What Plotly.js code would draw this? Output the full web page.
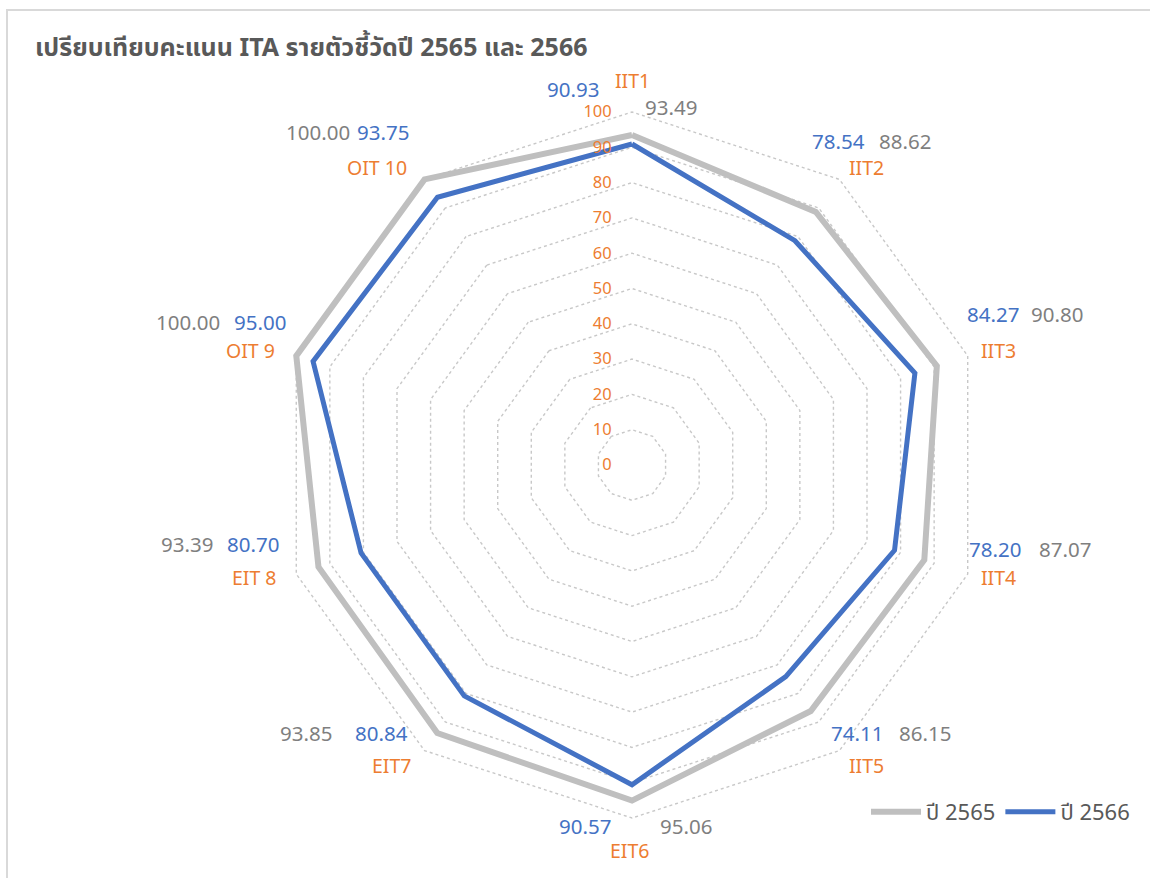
<!DOCTYPE html>
<html>
<head>
<meta charset="utf-8">
<script src="https://cdn.plot.ly/plotly-3.0.1.min.js"></script>
<style>html,body{margin:0;padding:0;background:#fff;}#chart{width:1150px;height:878px;}</style>
</head>
<body>
<div id="chart"></div>
<script>
// ---- data ----
const categories = ["IIT1", "IIT2", "IIT3", "IIT4", "IIT5", "EIT6", "EIT7", "EIT 8", "OIT 9", "OIT 10"];
const values2565 = [93.49, 88.62, 90.80, 87.07, 86.15, 95.06, 93.85, 93.39, 100.00, 100.00];
const values2566 = [90.93, 78.54, 84.27, 78.20, 74.11, 90.57, 80.84, 80.70, 95.00, 93.75];
const seriesNames = ["ปี 2565", "ปี 2566"];
const titleText = "เปรียบเทียบคะแนน ITA รายตัวชี้วัดปี 2565 และ 2566";

// ---- style / geometry ----
const W = 1150, H = 878;
const CX = 632, CY = 465, R = 353;       // polar centre & pixel radius of value 100
const RMAX = 102;                         // axis range end (a little room so thick lines at 100 are not clipped)
const RD = R * RMAX / 100;                // pixel radius of the polar domain
const LABEL_R = 109;                      // label anchor radius in axis units
const FONT = "'Noto Sans', 'Noto Sans Thai', Tahoma, sans-serif";
const C_GREY_LINE = "#BFBFBF", C_BLUE = "#4472C4", C_ORANGE = "#ED7D31", C_GREY_TXT = "#7F7F7F", C_TITLE = "#595959";
// pixel offsets of text relative to the label anchor on each spoke
const catOff  = [[0,0],[8,14],[1,4],[1,-6],[8,-11],[-3,1],[-14,-11],[-12,-6],[-16,4],[-29,14]];
const blueOff = [[-59,9],[-20,-13],[-5,-32],[-3,-35],[-1,-43],[-47,-24],[-24,-43],[-13,-40],[-6,-24],[-23,-22]];
const greyOff = [[39,27],[47,-13],[59,-32],[67,-35],[67,-43],[54,-24],[-100,-43],[-79,-40],[-78,-24],[-88,-22]];

const closeLoop = a => a.concat([a[0]]);

const traces = [
  {type: "scatterpolar", mode: "lines", name: seriesNames[0], cliponaxis: false,
   r: closeLoop(values2565), theta: closeLoop(categories),
   line: {color: C_GREY_LINE, width: 6}, hoverinfo: "skip"},
  {type: "scatterpolar", mode: "lines", name: seriesNames[1], cliponaxis: false,
   r: closeLoop(values2566), theta: closeLoop(categories),
   line: {color: C_BLUE, width: 5}, hoverinfo: "skip"}
];

// label annotations derived from the polar geometry
const n = categories.length;
const annotations = [];
function anchor(i) {
  const a = i * 2 * Math.PI / n;
  const rp = LABEL_R / 100 * R;
  return [CX + rp * Math.sin(a), CY - rp * Math.cos(a)];
}
function addText(i, off, text, color, size) {
  const p = anchor(i);
  annotations.push({
    xref: "paper", yref: "paper",
    x: (p[0] + off[0]) / W, y: 1 - (p[1] + off[1]) / H,
    xanchor: "center", yanchor: "middle", showarrow: false,
    text: text, font: {family: FONT, size: size, color: color}
  });
}
for (let i = 0; i < n; i++) {
  addText(i, catOff[i], categories[i], C_ORANGE, 19.5);
  addText(i, blueOff[i], values2566[i].toFixed(2), C_BLUE, 20.5);
  addText(i, greyOff[i], values2565[i].toFixed(2), C_GREY_TXT, 20.5);
}

const layout = {
  width: W, height: H,
  margin: {l: 0, r: 0, t: 0, b: 0},
  paper_bgcolor: "#fff",
  font: {family: FONT, color: C_TITLE},
  title: {text: "<b>" + titleText + "</b>", x: 35 / W, xanchor: "left", xref: "paper",
          y: 1 - 47 / H, yanchor: "middle", yref: "container",
          font: {family: FONT, size: 25, color: C_TITLE}},
  polar: {
    domain: {x: [(CX - RD) / W, (CX + RD) / W], y: [(H - CY - RD) / H, (H - CY + RD) / H]},
    bgcolor: "rgba(0,0,0,0)",
    gridshape: "linear",
    radialaxis: {range: [0, RMAX], tickvals: [0,10,20,30,40,50,60,70,80,90,100], angle: 90, side: "counterclockwise",
                 showline: false, ticks: "outside", ticklen: 14, tickcolor: "rgba(0,0,0,0)",
                 gridcolor: "#C8C8C8", griddash: "dot", gridwidth: 1.4,
                 tickfont: {family: FONT, size: 16.5, color: C_ORANGE}, tickangle: 90},
    angularaxis: {direction: "clockwise", rotation: 90, showgrid: false, showline: false,
                  ticks: "", showticklabels: false}
  },
  showlegend: true,
  legend: {orientation: "h", x: 1135 / W, xanchor: "right", y: 1 - 812 / H, yanchor: "middle",
           font: {family: FONT, size: 22, color: C_TITLE}, itemwidth: 50, bgcolor: "rgba(0,0,0,0)"},
  annotations: annotations,
  shapes: [
    {type: "line", xref: "paper", yref: "paper", x0: 6 / W, x1: 1, y0: 1 - 10 / H, y1: 1 - 10 / H,
     line: {color: "#D9D9D9", width: 2}},
    {type: "line", xref: "paper", yref: "paper", x0: 7 / W, x1: 7 / W, y0: 0, y1: 1 - 10 / H,
     line: {color: "#D9D9D9", width: 2}}
  ]
};

Plotly.newPlot("chart", traces, layout, {staticPlot: true, displayModeBar: false});
</script>
</body>
</html>
